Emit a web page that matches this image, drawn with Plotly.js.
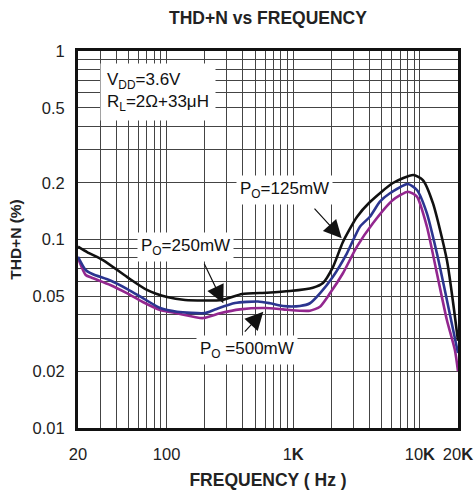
<!DOCTYPE html>
<html>
<head>
<meta charset="utf-8">
<script src="https://cdn.plot.ly/plotly-3.0.1.min.js"></script>
<style>html,body{margin:0;padding:0;background:#fff;}#chart{width:475px;height:491px;}</style>
</head>
<body>
<div id="chart"></div>
<script>
// ---- data ----
const freq125 = [20, 23.6, 31.5, 48.7, 70, 101, 140, 274, 394, 620, 942, 1430, 1716, 2058, 2469, 3184, 4034, 6126, 8870, 10560, 12680, 16340, 20000];
const thd125  = [0.0916, 0.0858, 0.0778, 0.0633, 0.054, 0.0495, 0.0478, 0.0478, 0.0514, 0.0522, 0.0533, 0.0555, 0.0588, 0.0714, 0.097, 0.1316, 0.158, 0.1994, 0.22, 0.2068, 0.156, 0.0778, 0.029];

const freq250 = [20, 23, 26, 36, 49, 65, 89, 121, 201, 241, 347, 527, 655, 830, 1130, 1356, 1626, 2058, 2655, 3363, 4034, 4837, 5801, 8046, 9478, 11365, 13627, 16340, 20000];
const thd250  = [0.081, 0.0689, 0.0656, 0.0606, 0.0546, 0.0489, 0.0433, 0.0414, 0.0407, 0.0425, 0.046, 0.0469, 0.0459, 0.0444, 0.0444, 0.0459, 0.0518, 0.0635, 0.0845, 0.1169, 0.1321, 0.1587, 0.1759, 0.197, 0.183, 0.1377, 0.0845, 0.0478, 0.025];

const freq500 = [20, 23, 26, 36, 49, 65, 89, 121, 194, 264, 380, 598, 830, 1130, 1356, 1626, 1950, 2469, 3184, 4259, 6126, 8046, 9478, 11365, 13627, 16340, 18900, 20000];
const thd500  = [0.0798, 0.0648, 0.0625, 0.0574, 0.0518, 0.0466, 0.0423, 0.0406, 0.0383, 0.0406, 0.0426, 0.0433, 0.0426, 0.0419, 0.0419, 0.044, 0.0518, 0.0662, 0.0916, 0.122, 0.162, 0.1793, 0.1687, 0.1169, 0.0662, 0.0374, 0.0259, 0.02];

const xGrid = [20,30,40,50,60,70,80,90,100,200,300,400,500,600,700,800,900,1000,2000,3000,4000,5000,6000,7000,8000,9000,10000,20000];
const xLabels = {20:'20', 100:'100', 1000:'1<b>K</b>', 10000:'10<b>K</b>', 20000:'20<b>K</b>'};
const yGrid = [0.01,0.02,0.03,0.04,0.05,0.06,0.07,0.08,0.09,0.1,0.2,0.3,0.4,0.5,0.6,0.7,0.8,0.9,1];
const yLabels = {0.01:'0.01', 0.02:'0.02', 0.05:'0.05', 0.1:'0.1', 0.2:'0.2', 0.5:'0.5', 1:'1'};

const FONT = 'Liberation Sans, Arial, sans-serif';
const L = 78, R = 458, T = 51, B = 428;
const px = x => (x - L) / (R - L);
const py = y => (B - y) / (B - T);

const line = (x, y, color, name) => ({
  x: x, y: y, name: name, type: 'scatter', mode: 'lines',
  line: {color: color, width: 2.6, shape: 'spline', smoothing: 0.6},
  hoverinfo: 'skip'
});

const traces = [
  line(freq500, thd500, '#93278f', 'PO=500mW'),
  line(freq250, thd250, '#2b3590', 'PO=250mW'),
  line(freq125, thd125, '#111111', 'PO=125mW')
];

const label = (text, x, y, anchor) => ({
  text: text, xref: 'paper', yref: 'paper', x: px(x), y: py(y),
  xanchor: anchor || 'center', yanchor: 'middle', showarrow: false,
  bgcolor: '#ffffff', borderpad: 3, align: 'left',
  font: {family: FONT, size: 17, color: '#111'}
});
const arrow = (tx, ty, sx, sy) => ({
  text: ' ', xref: 'paper', yref: 'paper', x: px(tx), y: py(ty),
  ax: sx - tx, ay: sy - ty, showarrow: true,
  arrowhead: 2, arrowsize: 3, arrowwidth: 1.2, arrowcolor: '#111',
  font: {size: 1}
});

const annotations = [
  Object.assign(label('V<sub>DD</sub>=3.6V<br>R<sub>L</sub>=2Ω+33μH', 100, 92, 'left'), {borderpad: 6}),
  label('P<sub>O</sub>=125mW', 284, 190),
  label('P<sub>O</sub>=250mW', 185.5, 247),
  label('P<sub>O</sub> =500mW', 246.7, 350),
  arrow(341.7, 238.3, 313, 207),
  arrow(223.3, 303.3, 203.3, 261.7),
  arrow(263.3, 311.7, 243.3, 333.3)
];

const layout = {
  width: 475, height: 491,
  margin: {l: L, r: 475 - R, t: T, b: 491 - B},
  paper_bgcolor: '#fff', plot_bgcolor: '#fff',
  showlegend: false,
  font: {family: FONT, color: '#222'},
  title: {text: '<b>THD+N vs FREQUENCY</b>', font: {family: FONT, size: 17.5, color: '#222'},
          x: 0.5, xref: 'paper', y: 1 - 18/491, yref: 'container', yanchor: 'middle'},
  xaxis: {
    type: 'log', range: [Math.log10(20), Math.log10(20000)],
    tickmode: 'array', tickvals: xGrid, ticktext: xGrid.map(v => xLabels[v] || ''),
    ticks: '', showgrid: true, gridcolor: '#444', gridwidth: 1,
    showline: true, mirror: true, linecolor: '#111', linewidth: 3,
    zeroline: false, tickfont: {family: FONT, size: 16.5, color: '#222'},
    ticklabelstandoff: 9,
    title: {text: '<b>FREQUENCY ( Hz )</b>', font: {family: FONT, size: 17.5, color: '#222'}, standoff: 12}
  },
  yaxis: {
    type: 'log', range: [-2, 0],
    tickmode: 'array', tickvals: yGrid, ticktext: yGrid.map(v => yLabels[v] || ''),
    ticks: '', showgrid: true, gridcolor: '#444', gridwidth: 1,
    showline: true, mirror: true, linecolor: '#111', linewidth: 3,
    zeroline: false, tickfont: {family: FONT, size: 16.5, color: '#222'},
    ticklabelstandoff: 7,
    title: {text: '<b>THD+N (%)</b>', font: {family: FONT, size: 15.5, color: '#222'}, standoff: 8}
  },
  annotations: annotations
};

Plotly.newPlot('chart', traces, layout, {staticPlot: true, displayModeBar: false});
</script>
</body>
</html>
